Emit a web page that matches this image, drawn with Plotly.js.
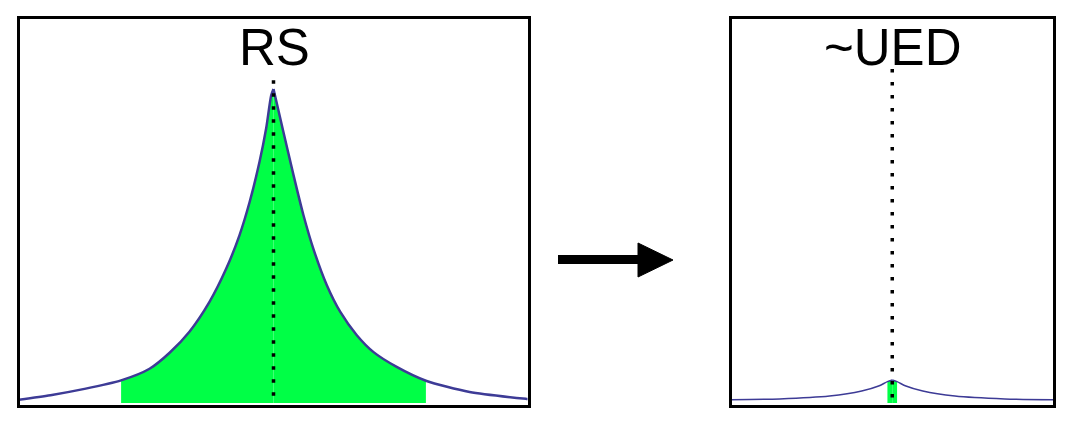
<!DOCTYPE html>
<html>
<head>
<meta charset="utf-8">
<script src="https://cdn.plot.ly/plotly-3.0.1.min.js"></script>
<style>
  html, body { margin: 0; padding: 0; background: #fff; }
  #chart { width: 1076px; height: 421px; }
</style>
</head>
<body>
<div id="chart"></div>
<script>
// RS spectrum (left panel), peak = 100
var rsLeftX  = [-10.1, -8.78, -7.44, -6, -4.88, -4.09, -3.31, -2.52, -1.86, -1.34, -0.94, -0.55, -0.29, -0.09, 0];
var rsLeftY  = [0.96, 2.5, 4.5, 7.2, 10.9, 16.0, 22.7, 32.2, 42.8, 53.4, 64.0, 76.8, 87.4, 98, 100];
var rsRightX = [0, 0.39, 0.79, 1.18, 1.57, 2.10, 2.63, 3.28, 3.94, 4.85, 6, 7.72, 9.96, 10.1];
var rsRightY = [100, 86.3, 72.5, 59.8, 49.1, 37.5, 29.0, 21.6, 16.2, 11.5, 7.1, 3.5, 1.3, 1.2];
var rsBand = [-6, 6];

// ~UED spectrum (right panel), same scale
var uedLeftX  = [-10, -7, -3.9, -1.9, -0.85, -0.3, 0];
var uedLeftY  = [1.05, 1.3, 2.2, 3.8, 5.4, 6.8, 7.3];
var uedRightX = [0, 0.3, 0.85, 1.9, 3.9, 7, 10];
var uedRightY = [7.3, 6.8, 5.4, 3.8, 2.2, 1.3, 1.05];
var uedBand = [-0.3, 0.3];

var panelTitles = ['RS', '~UED'];
var markerTop = [102.8, 106.4];

var W = 1076, H = 421;
function fx(p) { return p / W; }
function fy(p) { return 1 - p / H; }

var lineColor = '#3d3b96';
var green = '#00ff46';

function band(xs, ys, lo, hi) {
  var x = [], y = [];
  for (var i = 0; i < xs.length; i++) {
    if (xs[i] >= lo && xs[i] <= hi) { x.push(xs[i]); y.push(ys[i]); }
  }
  return {x: x, y: y};
}

function panel(xa, ya, lx, ly, rx, ry, bnd, lw, top) {
  var out = [];
  var bl = band(lx, ly, bnd[0], bnd[1]);
  var br = band(rx, ry, bnd[0], bnd[1]);
  [bl, br].forEach(function (b) {
    out.push({x: b.x, y: b.y, xaxis: xa, yaxis: ya, type: 'scatter', mode: 'lines',
      line: {width: 0, shape: 'spline', smoothing: 0.7, color: green}, fill: 'tozeroy', fillcolor: green,
      hoverinfo: 'skip', showlegend: false});
  });
  [[lx, ly], [rx, ry]].forEach(function (s) {
    out.push({x: s[0], y: s[1], xaxis: xa, yaxis: ya, type: 'scatter', mode: 'lines',
      line: {width: lw, shape: 'spline', smoothing: 0.7, color: lineColor}, showlegend: false});
  });
  out.push({x: [0, 0], y: [top, 0], xaxis: xa, yaxis: ya, type: 'scatter', mode: 'lines',
    line: {width: 3.5, color: '#000', dash: '3.5px,9.5px'}, showlegend: false});
  return out;
}

var data = panel('x', 'y', rsLeftX, rsLeftY, rsRightX, rsRightY, rsBand, 2.5, markerTop[0])
  .concat(panel('x2', 'y2', uedLeftX, uedLeftY, uedRightX, uedRightY, uedBand, 1.5, markerTop[1]));

// 3.14 px per unit, zero sits on the bottom frame line
var yLo = -1.5 / 3.14, yHi = (404.5 - 19 - 1.5) / 3.14;
function ax(domain, range, anchor) {
  return {domain: domain, range: range, anchor: anchor, showgrid: false, zeroline: false,
    showticklabels: false, ticks: '', showline: true, mirror: true,
    linewidth: 3, linecolor: '#000', fixedrange: true};
}

var titleFont = {family: 'Liberation Sans, Arial, sans-serif', size: 51, color: '#000'};

var layout = {
  width: W, height: H,
  margin: {l: 0, r: 0, t: 0, b: 0},
  paper_bgcolor: '#fff', plot_bgcolor: '#fff',
  showlegend: false,
  xaxis: ax([fx(19.5), fx(527.5)], [-10, 10], 'y'),
  yaxis: ax([fy(404.5), fy(19)], [yLo, yHi], 'x'),
  xaxis2: ax([fx(731.5), fx(1053)], [-10, 10], 'y2'),
  yaxis2: ax([fy(404.5), fy(19)], [yLo, yHi], 'x2'),
  annotations: [
    {text: panelTitles[0], xref: 'paper', yref: 'paper', x: fx(274), y: fy(47),
     xanchor: 'center', yanchor: 'middle', showarrow: false, font: titleFont},
    {text: panelTitles[1], xref: 'paper', yref: 'paper', x: fx(892), y: fy(47),
     xanchor: 'center', yanchor: 'middle', showarrow: false, font: titleFont}
  ],
  shapes: [
    {type: 'line', xref: 'paper', yref: 'paper', x0: fx(558), x1: fx(642), y0: fy(259.5), y1: fy(259.5),
     line: {color: '#000', width: 9}},
    {type: 'path', xref: 'paper', yref: 'paper',
     path: 'M' + fx(638) + ',' + fy(243) + ' L' + fx(673) + ',' + fy(260) + ' L' + fx(638) + ',' + fy(277) + ' Z',
     fillcolor: '#000', line: {color: '#000', width: 1}}
  ]
};

Plotly.newPlot('chart', data, layout, {displayModeBar: false, staticPlot: true});
</script>
</body>
</html>
